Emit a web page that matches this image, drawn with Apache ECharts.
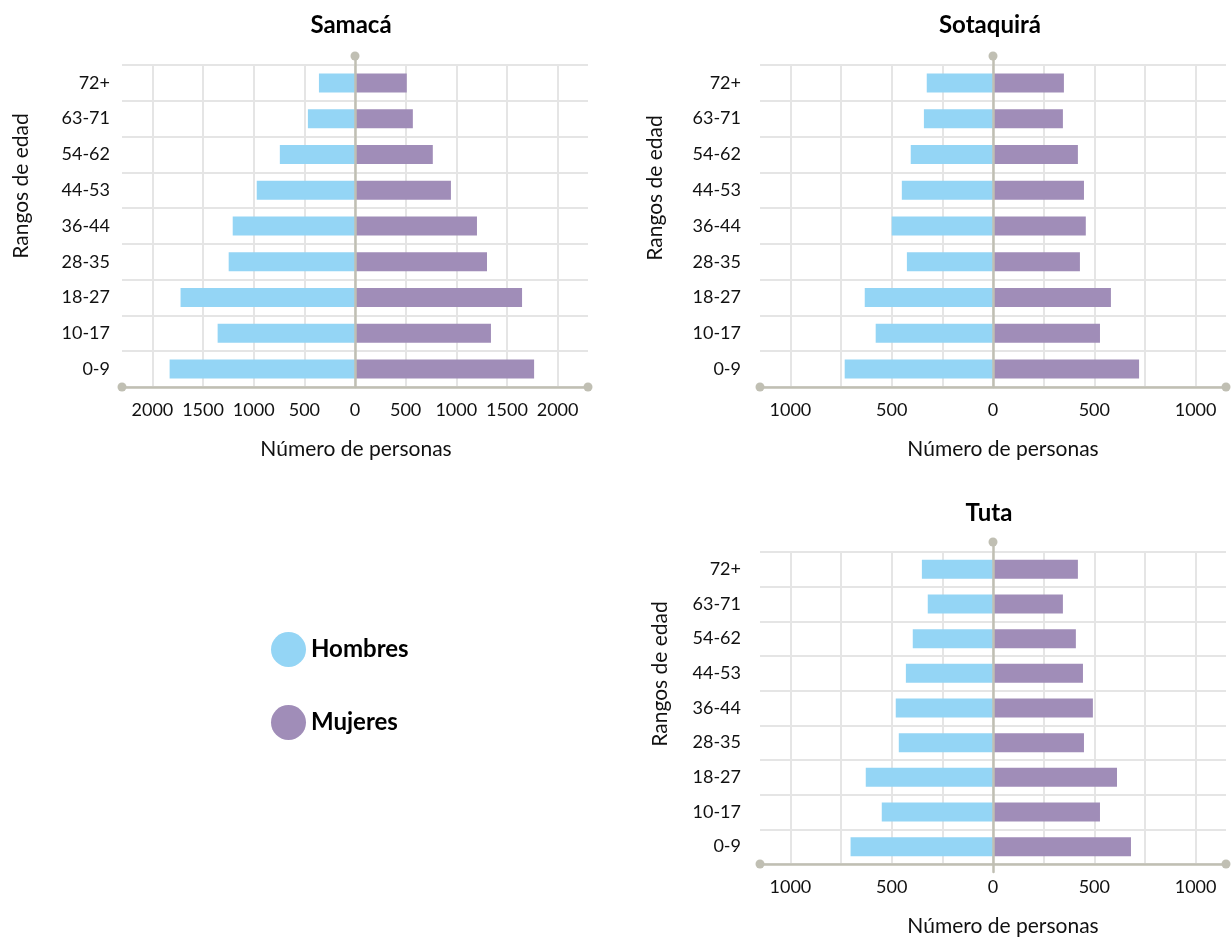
<!DOCTYPE html>
<html>
<head>
<meta charset="utf-8">
<script src="https://cdn.jsdelivr.net/npm/echarts@6/dist/echarts.min.js"></script>
<style>
html,body{margin:0;padding:0;background:#fff;}
#chart{width:1232px;height:938px;}
</style>
</head>
<body>
<div id="chart"></div>
<script>
const categories = ['0-9', '10-17', '18-27', '28-35', '36-44', '44-53', '54-62', '63-71', '72+'];
const seriesNames = ['Hombres', 'Mujeres'];
const titles = ['Samacá', 'Sotaquirá', 'Tuta'];
const xAxisName = 'Número de personas';
const yAxisName = 'Rangos de edad';

const samacaHombres = [1830, 1356, 1722, 1247, 1207, 970, 742, 465, 356];
const samacaMujeres = [1768, 1342, 1649, 1303, 1204, 947, 768, 571, 511];
const sotaquiraHombres = [732, 579, 633, 425, 500, 450, 406, 341, 327];
const sotaquiraMujeres = [721, 528, 582, 429, 458, 449, 419, 345, 350];
const tutaHombres = [703, 549, 628, 465, 480, 430, 396, 322, 351];
const tutaMujeres = [681, 528, 612, 449, 493, 444, 409, 345, 419];

const samacaGridTicks = [-2000, -1500, -1000, -500, 0, 500, 1000, 1500, 2000];
const samacaTickLabels = [-2000, -1500, -1000, -500, 0, 500, 1000, 1500, 2000];
const smallGridTicks = [-1000, -750, -500, -250, 0, 250, 500, 750, 1000];
const smallTickLabels = [-1000, -500, 0, 500, 1000];
const samacaRange = 2300;
const smallRange = 1150;

const COL_H = '#94D5F5';
const COL_M = '#A08DB8';
const AXIS_COL = '#C0BFB3';
const GRID_COL = '#E5E5E5';
const FONT = 'Lato';

const panels = [
  {title: titles[0], h: samacaHombres, m: samacaMujeres, range: samacaRange, ticks: samacaGridTicks, labels: samacaTickLabels,
   left: 122, width: 466, top: 65, height: 322, dotTop: 56, labelMargin: 12, titleX: 346, titleY: 8, nameX: 21, nameY: 186, namePad: 2},
  {title: titles[1], h: sotaquiraHombres, m: sotaquiraMujeres, range: smallRange, ticks: smallGridTicks, labels: smallTickLabels,
   left: 760, width: 466, top: 65, height: 322, dotTop: 56, labelMargin: 19, titleX: 985, titleY: 8, nameX: 655, nameY: 188, namePad: 20},
  {title: titles[2], h: tutaHombres, m: tutaMujeres, range: smallRange, ticks: smallGridTicks, labels: smallTickLabels,
   left: 760, width: 466, top: 552, height: 320, dotTop: 542, labelMargin: 19, titleX: 984, titleY: 496, nameX: 660, nameY: 674, namePad: 20}
];

const grid = [], xAxis = [], yAxis = [], series = [], title = [], graphic = [];

panels.forEach((p, i) => {
  const gMain = grid.length;
  grid.push({left: p.left, width: p.width, top: p.top, height: p.height, containLabel: false});
  const gOver = grid.length;
  grid.push({left: p.left, width: p.width, top: p.dotTop, height: p.top + p.height - p.dotTop, containLabel: false});

  const xMain = xAxis.length;
  xAxis.push({
    gridIndex: gMain, type: 'value', min: -p.range, max: p.range,
    name: xAxisName, nameLocation: 'middle', nameGap: 52,
    nameTextStyle: {fontFamily: FONT, fontSize: 21, color: '#111', padding: [0, 0, 0, p.namePad]},
    axisLine: {show: true, symbol: ['circle', 'circle'], symbolSize: [9, 9], lineStyle: {color: AXIS_COL, width: 2.5}},
    axisTick: {show: false, customValues: p.ticks},
    axisLabel: {customValues: p.labels, formatter: v => String(Math.abs(v)), fontFamily: FONT, fontSize: 18, color: '#111', margin: 14},
    splitLine: {show: true, lineStyle: {color: GRID_COL, width: 2}}
  });
  xAxis.push({gridIndex: gOver, type: 'value', min: -p.range, max: p.range, show: false});

  const yMain = yAxis.length;
  yAxis.push({
    gridIndex: gMain, type: 'category', data: categories,
    axisLine: {show: false}, axisTick: {show: false},
    axisLabel: {fontFamily: FONT, fontSize: 18, color: '#111', margin: p.labelMargin},
    splitLine: {show: true, lineStyle: {color: GRID_COL, width: 2}}
  });
  yAxis.push({
    gridIndex: gOver, type: 'value', min: 0, max: 1, z: 10,
    axisLine: {show: true, onZero: true, symbol: ['none', 'circle'], symbolSize: [9, 9], lineStyle: {color: AXIS_COL, width: 2.5}},
    axisTick: {show: false}, axisLabel: {show: false}, splitLine: {show: false}
  });

  series.push({
    name: seriesNames[0], type: 'bar', stack: 's' + i, xAxisIndex: xMain, yAxisIndex: yMain,
    barWidth: 19, itemStyle: {color: COL_H}, data: p.h.map(v => -v)
  });
  series.push({
    name: seriesNames[1], type: 'bar', stack: 's' + i, xAxisIndex: xMain, yAxisIndex: yMain,
    barWidth: 19, itemStyle: {color: COL_M}, data: p.m.slice()
  });

  title.push({text: p.title, left: p.titleX, top: p.titleY, textAlign: 'center',
    textStyle: {fontFamily: FONT, fontWeight: 'bold', fontSize: 24, color: '#000'}});

  graphic.push({type: 'text', x: p.nameX, y: p.nameY, rotation: Math.PI / 2,
    style: {text: yAxisName, font: '21px ' + FONT, fill: '#111', align: 'center', verticalAlign: 'middle'}});
});

const chart = echarts.init(document.getElementById('chart'), null, {renderer: 'canvas'});
chart.setOption({
  backgroundColor: '#fff',
  animation: false,
  title: title,
  legend: {
    data: seriesNames, orient: 'vertical', left: 266, top: 627, icon: 'circle',
    itemWidth: 35, itemHeight: 35, itemGap: 38,
    textStyle: {fontFamily: FONT, fontWeight: 'bold', fontSize: 24, color: '#000'}
  },
  grid: grid, xAxis: xAxis, yAxis: yAxis, series: series, graphic: graphic
});
</script>
</body>
</html>
